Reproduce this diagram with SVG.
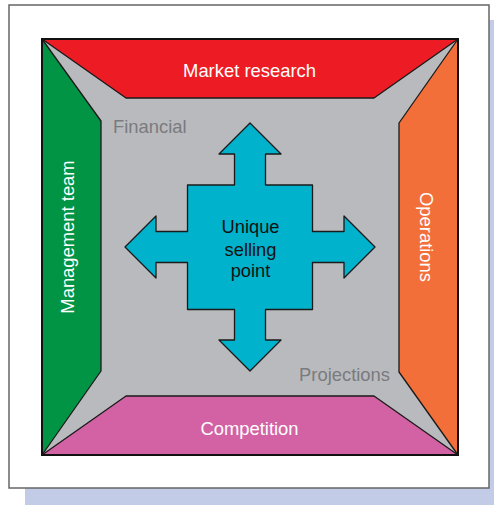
<svg xmlns="http://www.w3.org/2000/svg" width="494" height="505" viewBox="0 0 494 505">
<style>
.side{stroke:#1a1a1a;stroke-width:1.3;stroke-linejoin:round}
.lbl{font-family:"Liberation Sans",Arial,sans-serif;font-size:18.4px;fill:#fff;text-anchor:middle}
.note{font-family:"Liberation Sans",Arial,sans-serif;font-size:18.4px;fill:#7a7b7e}
.usp{font-family:"Liberation Sans",Arial,sans-serif;font-size:18.3px;fill:#111;text-anchor:middle}
</style>
<rect x="25" y="20" width="469" height="485" fill="#c2cce6"/>
<rect x="9" y="5" width="480" height="483" fill="#fff" stroke="#666" stroke-width="1.5"/>
<g id="background">
<rect x="42" y="39" width="416" height="416" fill="#b9babd"/>
</g>
<g id="market-research">
<polygon class="side" points="42,39 458,39 374,98 126,98" fill="#ed1c24"/>
<text class="lbl" x="249.5" y="76.7">Market research</text>
</g>
<g id="management-team">
<polygon class="side" points="42,39 101,121 101,371 42,455" fill="#009444"/>
<text class="lbl" transform="translate(74,237) rotate(-90)">Management team</text>
</g>
<g id="operations">
<polygon class="side" points="458,39 399,123 399,372 458,455" fill="#f26f3a"/>
<text class="lbl" transform="translate(420,237) rotate(90)">Operations</text>
</g>
<g id="competition">
<polygon class="side" points="42,455 126,396 374,396 458,455" fill="#d262a4"/>
<text class="lbl" x="249.5" y="435">Competition</text>
</g>
<g id="frame">
<rect x="42" y="39" width="416" height="416" fill="none" stroke="#111" stroke-width="2"/>
</g>
<g id="financial">
<text class="note" x="113" y="133">Financial</text>
</g>
<g id="projections">
<text class="note" x="390" y="381" text-anchor="end">Projections</text>
</g>
<g id="usp">
<polygon class="side" fill="#00b2cc" points="250,123 281,154 265.5,154 265.5,185 312.5,185 312.5,231.5 344,231.5 344,216 375,247 344,278 344,262.5 312.5,262.5 312.5,309.5 265.5,309.5 265.5,340 281,340 250,371 219,340 234.5,340 234.5,309.5 187.5,309.5 187.5,262.5 156,262.5 156,278 125,247 156,216 156,231.5 187.5,231.5 187.5,185 234.5,185 234.5,154 219,154"/>
<text class="usp" x="250.5" y="233.3">Unique</text>
<text class="usp" x="250.5" y="256.3">selling</text>
<text class="usp" x="250.5" y="277">point</text>
</g>
<g id="connectors"/>
</svg>
